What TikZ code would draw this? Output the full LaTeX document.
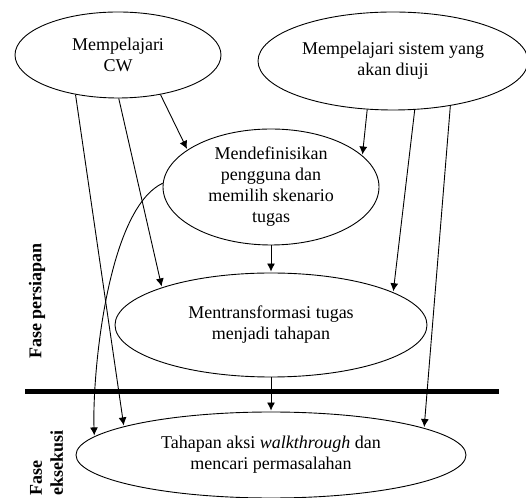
\documentclass[tikz,border=0pt]{standalone}
\usepackage{fontspec}
\setmainfont{Liberation Serif}
\usetikzlibrary{arrows.meta,shapes.geometric}

\begin{document}
\begin{tikzpicture}[->,>={Latex[length=8pt,width=8pt]},shorten >=1pt,x=1pt,y=1pt,line width=0.9pt,
      every node/.style={font=\fontsize{18}{21}\selectfont},
      tahap/.style={ellipse,draw,inner sep=0pt,align=center},
      fase/.style={font=\fontsize{18}{21}\selectfont\bfseries,rotate=90}]
      \useasboundingbox (0,0) rectangle (526,497);

      \node[tahap,minimum width=206pt,minimum height=86pt] (cw) at (118,442)
        { Mempelajari\\CW };
      \node[tahap,minimum width=270pt,minimum height=98pt] (sis) at (393,436)
        { Mempelajari sistem yang\\akan diuji };
      \node[tahap,minimum width=216pt,minimum height=116pt] (def) at (271,310)
        { Mendefinisikan\\pengguna dan\\memilih skenario\\tugas };
      \node[tahap,minimum width=312pt,minimum height=104pt] (trans) at (271,172)
        { Mentransformasi tugas\\menjadi tahapan };
      \node[tahap,minimum width=390pt,minimum height=86pt] (aksi) at (271,42)
        { Tahapan aksi \textit{walkthrough} dan\\mencari permasalahan };

      \node[fase] (persiapan) at (37,196) { Fase persiapan };
      \node[fase,align=left] (eksekusi) at (46.5,34) { Fase\\eksekusi };

      % batas antar fase
      \draw[-,line width=5pt] (25,105) -- (500,105);

      \path
      (cw.223) edge (aksi.169)
      (cw.271) edge (trans.161)
      (cw.317) edge (def.156)
      (def.178) edge [out=205,in=92,looseness=0.6] (aksi.174)
      (sis.242) edge (def.19)
      (sis.294) edge (trans.15)
      (sis.322) edge (aksi.10)
      (def) edge (trans)
      (trans) edge (aksi)
      ;
\end{tikzpicture}
\end{document}
